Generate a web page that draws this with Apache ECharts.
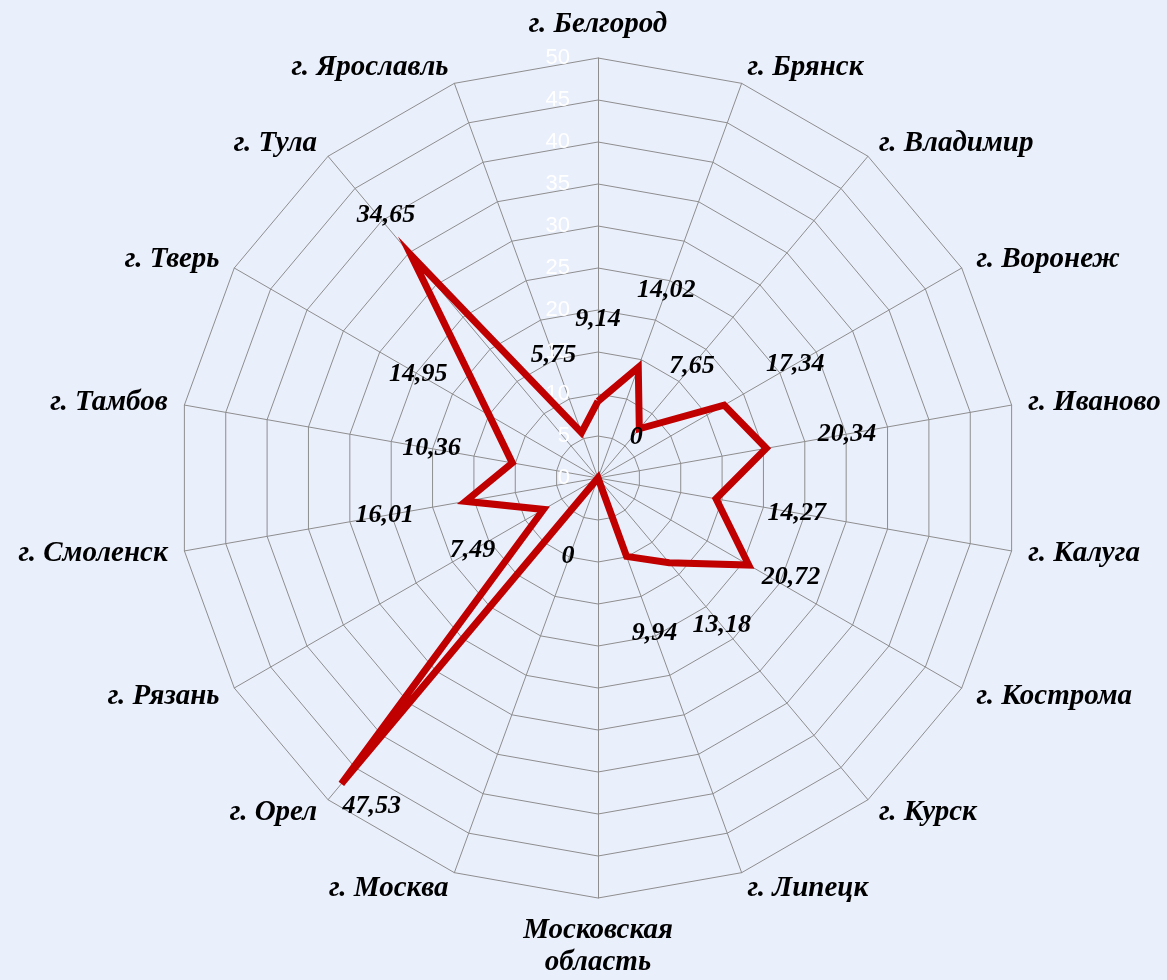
<!DOCTYPE html>
<html>
<head>
<meta charset="utf-8">
<script src="https://cdn.jsdelivr.net/npm/echarts@6/dist/echarts.min.js"></script>
<style>
  html, body { margin: 0; padding: 0; background: #eaeffc; }
  #chart { width: 1167px; height: 980px; }
</style>
</head>
<body>
<div id="chart"></div>
<script>
// Cities, listed clockwise starting from the top axis
const cities = [
  'г. Белгород', 'г. Брянск', 'г. Владимир', 'г. Воронеж', 'г. Иваново',
  'г. Калуга', 'г. Кострома', 'г. Курск', 'г. Липецк', 'Московская\nобласть',
  'г. Москва', 'г. Орел', 'г. Рязань', 'г. Смоленск', 'г. Тамбов',
  'г. Тверь', 'г. Тула', 'г. Ярославль'
];
const values = [
  9.14, 14.02, 7.65, 17.34, 20.34,
  14.27, 20.72, 13.18, 9.94, 0,
  0, 47.53, 7.49, 16.01, 10.36,
  14.95, 34.65, 5.75
];
const axisMax = 50;
const axisStep = 5;

// Value labels sit 82px outward along their axis; a few are moved by hand
// (direction in degrees clockwise from the top, distance in px)
const defaultLabelDist = 82;
const labelNudges = {
  'г. Кострома': [106, 44],
  'Московская\nобласть': [43, 56],
  'г. Москва': [201, 84],
  'г. Орел': [127, 38],
  'г. Тула': [328, 47]
};

const n = cities.length;
// ECharts lays indicators out counter-clockwise, so feed them in reverse after the first
const order = [0];
for (let k = n - 1; k >= 1; k--) order.push(k);

const indicator = order.map((idx, pos) => {
  const ind = { name: cities[idx], min: 0, max: axisMax };
  if (pos === 0) {
    ind.axisLabel = {
      show: true, color: '#ffffff', fontSize: 22,
      fontFamily: 'Liberation Sans, Arial, sans-serif', margin: 28
    };
  }
  return ind;
});
const ordered = arr => order.map(idx => arr[idx]);

const fmt = v => v.toFixed(2).replace('.', ',').replace(/,00$/, '');

const labelFont = {
  color: '#000', fontSize: 26, fontStyle: 'italic', fontWeight: 'bold',
  fontFamily: 'Liberation Serif, Times New Roman, serif'
};

const series = [{
  type: 'radar',
  silent: true,
  symbol: 'none',
  lineStyle: { color: '#c00000', width: 7, join: 'miter' },
  data: [{ value: ordered(values) }],
  z: 3
}];

// One value label per city
cities.forEach((c, i) => {
  let ang = i * 360 / n;
  let dist = defaultLabelDist;
  if (labelNudges[c]) { ang = labelNudges[c][0]; dist = labelNudges[c][1]; }
  const theta = ang * Math.PI / 180;
  const single = values.map((v, j) => (j === i ? v : '-'));
  series.push({
    type: 'radar',
    silent: true,
    symbol: 'circle',
    symbolSize: 0.1,
    itemStyle: { color: 'rgba(0,0,0,0)' },
    lineStyle: { width: 0, opacity: 0 },
    label: Object.assign({
      show: true,
      position: 'inside',
      offset: [dist * Math.sin(theta), -dist * Math.cos(theta)],
      formatter: p => {
        const v = p.value;
        return (v === '-' || v == null || isNaN(v)) ? '' : fmt(+v);
      }
    }, labelFont),
    data: [{ value: ordered(single) }],
    z: 4
  });
});

const chart = echarts.init(document.getElementById('chart'));
chart.setOption({
  backgroundColor: '#eaeffc',
  animation: false,
  radar: {
    center: [598, 478],
    radius: 420,
    startAngle: 90,
    shape: 'polygon',
    splitNumber: axisMax / axisStep,
    indicator: indicator,
    axisName: {
      color: '#000', fontSize: 29, fontStyle: 'italic', fontWeight: 'bold',
      fontFamily: 'Liberation Serif, Times New Roman, serif', lineHeight: 32
    },
    nameGap: 17,
    axisLabel: { show: false },
    axisLine: { lineStyle: { color: '#8e8e8e', width: 1 } },
    splitLine: { lineStyle: { color: '#8e8e8e', width: 1 } },
    splitArea: { show: false }
  },
  series: series
});
</script>
</body>
</html>
